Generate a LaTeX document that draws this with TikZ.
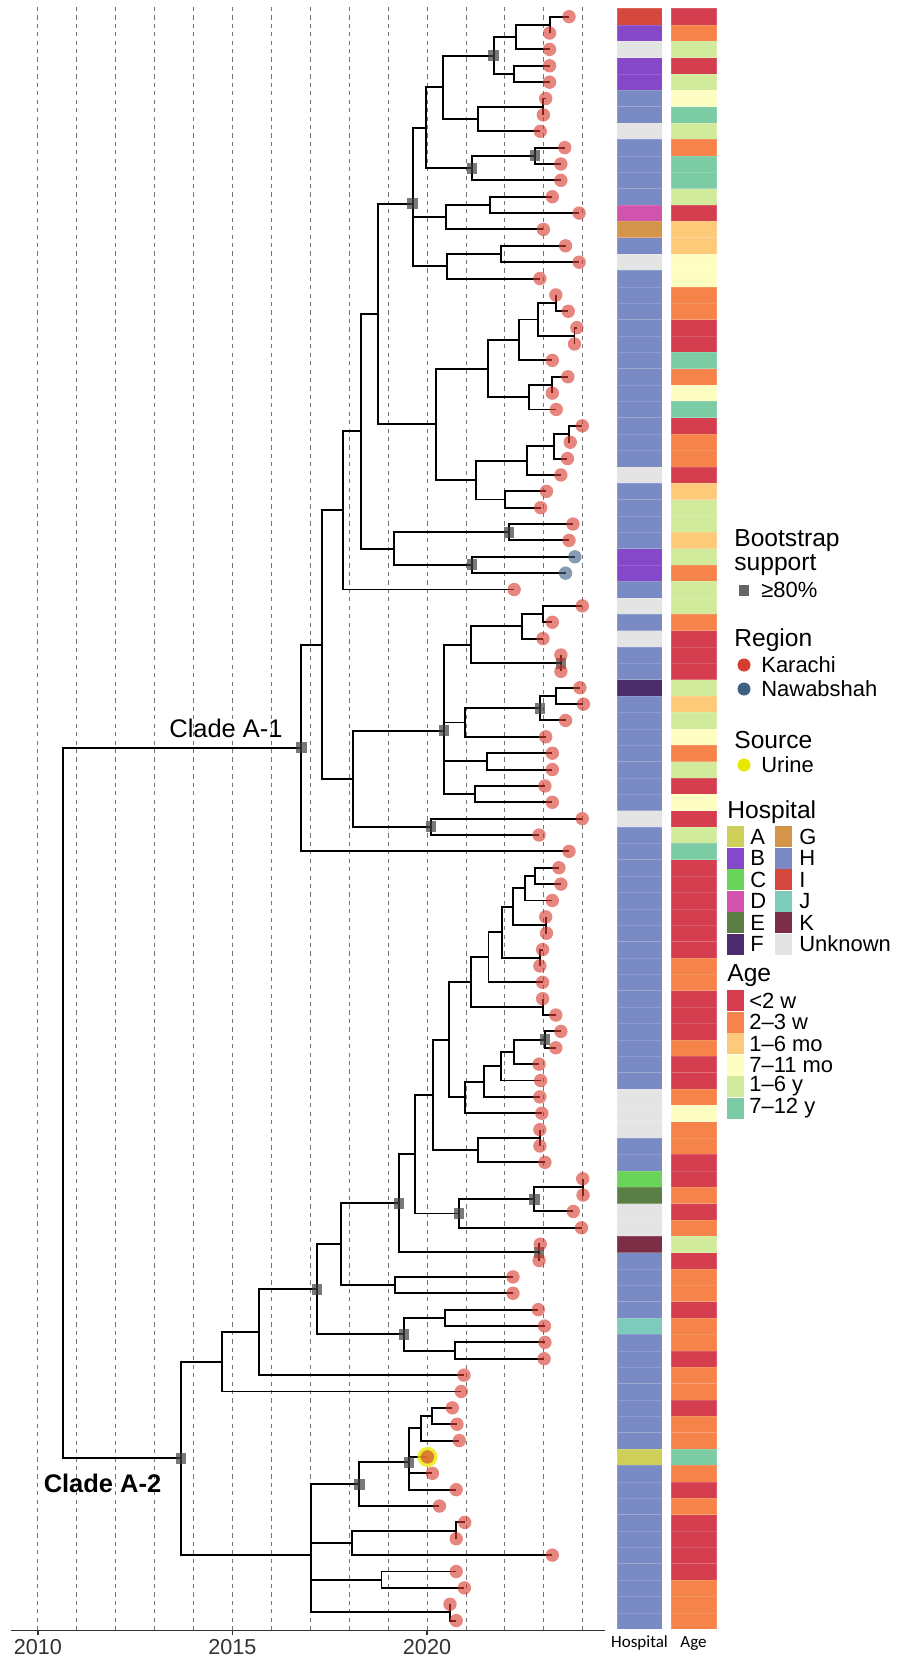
\documentclass[tikz,border=0pt]{standalone}
\usepackage{fontspec}
\setmainfont{Liberation Sans}
\newfontfamily\barfont{Carlito}
\definecolor{karachi}{RGB}{214, 60, 48}
\definecolor{nawab}{RGB}{62, 96, 130}
\definecolor{urine}{RGB}{232, 232, 0}
% hospitals
\definecolor{hA}{RGB}{205, 207, 88}
\definecolor{hB}{RGB}{133, 72, 200}
\definecolor{hC}{RGB}{106, 211, 90}
\definecolor{hD}{RGB}{208, 83, 172}
\definecolor{hE}{RGB}{90, 126, 69}
\definecolor{hF}{RGB}{75, 44, 107}
\definecolor{hG}{RGB}{212, 148, 74}
\definecolor{hH}{RGB}{122, 138, 196}
\definecolor{hI}{RGB}{214, 72, 61}
\definecolor{hJ}{RGB}{124, 203, 187}
\definecolor{hK}{RGB}{123, 46, 69}
\definecolor{hU}{RGB}{228, 228, 228}
% age groups
\definecolor{a1}{RGB}{213, 62, 79}
\definecolor{a2}{RGB}{245, 131, 74}
\definecolor{a3}{RGB}{253, 202, 122}
\definecolor{a4}{RGB}{255, 254, 194}
\definecolor{a5}{RGB}{210, 234, 155}
\definecolor{a6}{RGB}{123, 203, 165}

% internal node: name, x (years after 2010), y (tip rows), children
\newcommand\clade[4]{%
  \coordinate (#1) at (#2,#3);
  \foreach \kid in {#4} {\draw[branch] (#1) |- (\kid);}%
}

\begin{document}
\begin{tikzpicture}[x=0.02cm,y=-0.02cm,
    branch/.style={line width=1.1pt},
    boot/.style={fill=black!75, fill opacity=0.7, inner sep=0, minimum width=0.21cm, minimum height=0.22cm},
    yearline/.style={black!55, line width=0.45pt, dash pattern=on 2.4pt off 2.4pt},
    ltitle/.style={anchor=west, inner sep=0, font=\fontsize{14}{16}\selectfont},
    litem/.style={anchor=west, inner sep=0, font=\fontsize{12.5}{15}\selectfont}]
  \useasboundingbox (0,0) rectangle (900,1672);

  \begin{scope}[xshift=0.758cm, yshift=-0.334cm, x=0.7784cm, y=-0.3274cm]
    % year grid and time axis
    \foreach \k in {0,...,14}
      \draw[yearline] (\k,-0.6) -- (\k,98.61);
    \draw[black!80, line width=0.75pt] (-0.7,98.61) -- (14.57,98.61);
    \foreach \k/\yr in {0/2010,5/2015,10/2020} {
      \draw[black!80, line width=0.75pt] (\k,98.61) -- (\k,98.85);
      \node[font=\fontsize{12.3}{14}\selectfont, text=black!80] (yr\yr) at (\k,99.6) {\yr};
    }

    % tips
    \foreach \i/\x in {0/13.65,1/13.15,2/13.15,3/13.15,4/13.15,5/13.05,6/12.99,7/12.91,8/13.54,9/13.44,
        10/13.44,11/13.22,12/13.91,13/12.99,14/13.56,15/13.91,16/12.90,17/13.31,18/13.63,19/13.85,
        20/13.79,21/13.22,22/13.62,23/13.22,24/13.32,25/13.99,26/13.68,27/13.61,28/13.44,29/13.07,
        30/12.92,31/13.75,32/13.65,33/13.80,34/13.56,35/12.24,36/13.99,37/13.22,38/12.98,39/13.44,
        40/13.44,41/13.93,42/14.02,43/13.56,44/13.05,45/13.22,46/13.22,47/13.03,48/13.22,49/13.99,
        50/12.88,51/13.65,52/13.39,53/13.44,54/13.22,55/13.05,56/13.07,57/12.97,58/12.90,59/12.97,
        60/12.97,61/13.31,62/13.44,63/13.31,64/12.88,65/12.92,66/12.90,67/12.95,68/12.90,69/12.90,
        70/13.03,71/14.00,72/14.01,73/13.76,74/13.97,75/12.91,76/12.88,77/12.21,78/12.21,79/12.86,
        80/13.02,81/13.03,82/13.01,83/10.95,84/10.88,85/10.65,86/10.77,87/10.83,88/10.01,89/10.14,
        90/10.75,91/10.32,92/10.97,93/10.75,94/13.22,95/10.75,96/10.96,97/10.59,98/10.75}
      \coordinate (t\i) at (\x,\i);

    % clade A-1
    \clade{n01}{13.15}{0.5}{t0,t1}
    \clade{n02}{12.28}{1.25}{n01,t2}
    \clade{n03}{12.24}{3.5}{t3,t4}
    \clade{n04}{11.71}{2.375}{n02,n03}
    \clade{n05}{12.99}{5.5}{t5,t6}
    \clade{n06}{11.32}{6.25}{n05,t7}
    \clade{n07}{10.42}{4.3125}{n04,n06}
    \clade{n08}{12.78}{8.5}{t8,t9}
    \clade{n09}{11.16}{9.25}{n08,t10}
    \clade{n10}{9.97}{6.78125}{n07,n09}
    \clade{n11}{11.62}{11.5}{t11,t12}
    \clade{n12}{10.49}{12.25}{n11,t13}
    \clade{n13}{11.91}{14.5}{t14,t15}
    \clade{n14}{10.51}{15.25}{n13,t16}
    \clade{n15}{9.63}{11.4271}{n10,n12,n14}
    \clade{n16}{13.31}{17.5}{t17,t18}
    \clade{n17}{13.79}{19.5}{t19,t20}
    \clade{n18}{12.85}{18.5}{n16,n17}
    \clade{n19}{12.37}{19.75}{n18,t21}
    \clade{n20}{13.22}{22.5}{t22,t23}
    \clade{n21}{12.61}{23.25}{n20,t24}
    \clade{n22}{11.56}{21.5}{n19,n21}
    \clade{n23}{13.66}{25.5}{t25,t26}
    \clade{n24}{13.26}{26.25}{n23,t27}
    \clade{n25}{12.58}{27.125}{n24,t28}
    \clade{n26}{12.01}{29.5}{t29,t30}
    \clade{n27}{11.26}{28.3125}{n25,n26}
    \clade{n28}{10.23}{24.9063}{n22,n27}
    \clade{n29}{8.75}{18.1667}{n15,n28}
    \clade{n30}{12.11}{31.5}{t31,t32}
    \clade{n31}{11.15}{33.5}{t33,t34}
    \clade{n32}{9.14}{32.5}{n30,n31}
    \clade{n33}{8.31}{25.3333}{n29,n32}
    \clade{n34}{7.84}{30.1667}{n33,t35}
    \clade{n35}{12.99}{36.5}{t36,t37}
    \clade{n36}{12.43}{37.25}{n35,t38}
    \clade{n37}{13.44}{39.5}{t39,t40}
    \clade{n38}{11.13}{38.375}{n36,n37}
    \clade{n39}{13.31}{41.5}{t41,t42}
    \clade{n40}{12.90}{42.25}{n39,t43}
    \clade{n41}{10.97}{43.125}{n40,t44}
    \clade{n42}{11.54}{45.5}{t45,t46}
    \clade{n43}{11.23}{47.5}{t47,t48}
    \clade{n44}{10.43}{43.625}{n38,n41,n42,n43}
    \clade{n45}{10.10}{49.5}{t49,t50}
    \clade{n46}{8.09}{46.5625}{n44,n45}
    \clade{n47}{7.31}{38.3646}{n34,n46}
    \clade{a1}{6.77}{44.6823}{n47,t51}
    % clade A-2
    \clade{n48}{12.78}{52.5}{t52,t53}
    \clade{n49}{12.52}{53.25}{n48,t54}
    \clade{n50}{13.05}{55.5}{t55,t56}
    \clade{n51}{12.22}{54.375}{n49,n50}
    \clade{n52}{12.90}{57.5}{t57,t58}
    \clade{n53}{11.92}{55.9375}{n51,n52}
    \clade{n54}{11.58}{57.4688}{n53,t59}
    \clade{n55}{12.97}{60.5}{t60,t61}
    \clade{n56}{11.13}{58.9844}{n54,n55}
    \clade{n57}{13.03}{62.5}{t62,t63}
    \clade{n58}{12.24}{63.25}{n57,t64}
    \clade{n59}{11.91}{64.125}{n58,t65}
    \clade{n60}{11.47}{65.0625}{n59,t66}
    \clade{n61}{10.98}{66.0313}{n60,t67}
    \clade{n62}{10.56}{62.5078}{n56,n61}
    \clade{n63}{12.90}{68.5}{t68,t69}
    \clade{n64}{11.32}{69.25}{n63,t70}
    \clade{n65}{10.16}{65.8789}{n62,n64}
    \clade{n66}{14.00}{71.5}{t71,t72}
    \clade{n67}{12.76}{72.25}{n66,t73}
    \clade{n68}{10.82}{73.125}{n67,t74}
    \clade{n69}{9.68}{69.502}{n65,n68}
    \clade{n70}{12.88}{75.5}{t75,t76}
    \clade{n71}{9.28}{72.501}{n69,n70}
    \clade{n72}{9.17}{77.5}{t77,t78}
    \clade{n73}{7.79}{75.0005}{n71,n72}
    \clade{n74}{10.46}{79.5}{t79,t80}
    \clade{n75}{10.71}{81.5}{t81,t82}
    \clade{n76}{9.41}{80.5}{n74,n75}
    \clade{n77}{7.17}{77.7502}{n73,n76}
    \clade{n78}{5.68}{80.3751}{n77,t83}
    \clade{n79}{4.74}{82.1876}{n78,t84}
    \clade{n80}{10.12}{85.5}{t85,t86}
    \clade{n81}{9.85}{86.25}{n80,t87}
    \clade{n82}{9.54}{88.3125}{n81,t88,t89,t90}
    \clade{n83}{8.26}{89.6563}{n82,t91}
    \clade{n84}{10.75}{92.5}{t92,t93}
    \clade{n85}{8.07}{93.25}{n84,t94}
    \clade{n86}{8.83}{95.5}{t95,t96}
    \clade{n87}{10.59}{97.5}{t97,t98}
    \clade{n88}{7.02}{93.9766}{n83,n85,n86,n87}
    \clade{a2}{3.68}{88.0821}{n79,n88}
    \clade{root}{0.64}{66.3822}{a1,a2}

    % bootstrap >= 80%
    \foreach \n in {n04,n08,n09,n15,n30,n31,n37,n40,n44,n45,a1,n57,n67,n68,n70,n71,n76,n77,n82,n83,a2}
      \node[boot] at (\n) {};

    % tip points
    \fill[urine, fill opacity=0.8] (t88) circle (0.2cm);
    \foreach \i in {0,...,32,35,36,...,98}
      \fill[karachi, fill opacity=0.62] (t\i) circle (0.134cm);
    \foreach \i in {33,34}
      \fill[nawab, fill opacity=0.62] (t\i) circle (0.134cm);
  \end{scope}

  \node[font=\fontsize{14.5}{17}\selectfont] (cladeA1) at (226,728) {Clade A-1};
  \node[font=\fontsize{14.5}{17}\selectfont\bfseries] (cladeA2) at (102.5,1483) {Clade A-2};

  % hospital and age bars
  \foreach \i/\h/\a in {0/I/1,1/B/2,2/U/5,3/B/1,4/B/5,5/H/4,6/H/6,7/U/5,8/H/2,9/H/6,
      10/H/6,11/H/5,12/D/1,13/G/3,14/H/3,15/U/4,16/H/4,17/H/2,18/H/2,19/H/1,
      20/H/1,21/H/6,22/H/2,23/H/4,24/H/6,25/H/1,26/H/2,27/H/2,28/U/1,29/H/3,
      30/H/5,31/H/5,32/H/3,33/B/5,34/B/2,35/H/5,36/U/5,37/H/2,38/U/1,39/H/1,
      40/H/1,41/F/5,42/H/3,43/H/5,44/H/4,45/H/2,46/H/5,47/H/1,48/H/4,49/U/1,
      50/H/5,51/H/6,52/H/1,53/H/1,54/H/1,55/H/1,56/H/1,57/H/1,58/H/2,59/H/2,
      60/H/1,61/H/1,62/H/1,63/H/2,64/H/1,65/H/1,66/U/2,67/U/4,68/U/2,69/H/2,
      70/H/1,71/C/1,72/E/2,73/U/1,74/U/2,75/K/5,76/H/1,77/H/2,78/H/2,79/H/1,
      80/J/2,81/H/2,82/H/1,83/H/2,84/H/2,85/H/1,86/H/2,87/H/2,88/A/6,89/H/2,
      90/H/1,91/H/2,92/H/1,93/H/1,94/H/1,95/H/1,96/H/2,97/H/2,98/H/2} {
    \filldraw[fill=h\h, draw=white, draw opacity=0.15, line width=0.3pt] (617,{8.5+16.37*\i}) rectangle ++(45,16.37);
    \filldraw[fill=a\a, draw=white, draw opacity=0.15, line width=0.3pt] (671,{8.5+16.37*\i}) rectangle ++(45.5,16.37);
  }
  \node[font=\barfont\fontsize{9.7}{11}\selectfont] (hosplab) at (639.5,1643) {Hospital};
  \node[font=\barfont\fontsize{9.7}{11}\selectfont] (agelab) at (693.5,1643) {Age};

  % legends
  \node[ltitle] (bstitle) at (734,541) {Bootstrap};
  \node[ltitle] at (734,565) {support};
  \node[boot, fill opacity=0.8] (bskey) at (744,590) {};
  \node[litem] at (761,590) {≥80\%};

  \node[ltitle] (regtitle) at (734,640) {Region};
  \fill[karachi] (744,665) circle (0.13cm);
  \node[litem] at (761,665) {Karachi};
  \fill[nawab] (744,689) circle (0.13cm);
  \node[litem] at (761,689) {Nawabshah};

  \node[ltitle] (srctitle) at (734,740) {Source};
  \fill[urine] (744,765) circle (0.13cm);
  \node[litem] at (761,765) {Urine};

  \node[ltitle] (hosptitle) at (727,812) {Hospital};
  \foreach \l [count=\k from 0] in {A,B,C,D,E,F} {
    \fill[h\l] (727,{826+21.5*\k}) rectangle ++(17,21);
    \node[litem] at (750,{836.5+21.5*\k}) {\l};
  }
  \foreach \l/\txt [count=\k from 0] in {G/G,H/H,I/I,J/J,K/K,U/Unknown} {
    \fill[h\l] (775,{826+21.5*\k}) rectangle ++(17,21);
    \node[litem] at (799,{836.5+21.5*\k}) {\txt};
  }

  \node[ltitle] (agetitle) at (727,976) {Age};
  \foreach \txt [count=\k] in {<2 w,2–3 w,1–6 mo,7–11 mo,1–6 y,7–12 y} {
    \fill[a\k] (727,{968.5+21.5*\k}) rectangle ++(17,21);
    \node[litem] at (749,{979+21.5*\k}) {\txt};
  }
\end{tikzpicture}
\end{document}
